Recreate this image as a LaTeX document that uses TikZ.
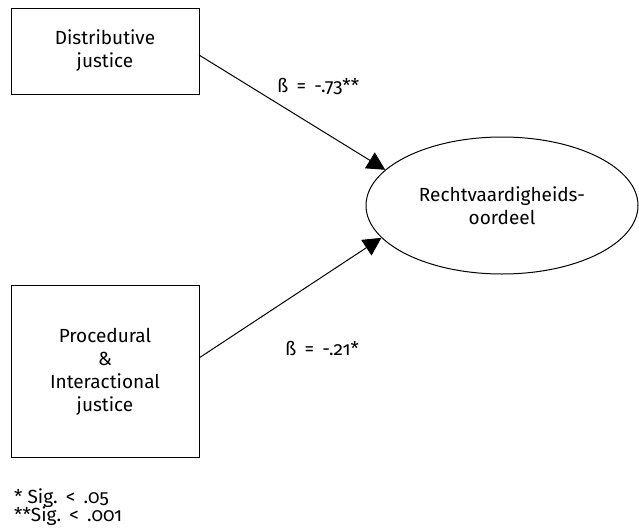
\documentclass[tikz,border=0pt]{standalone}
\usepackage{fontspec}
\setmainfont[Numbers=OldStyle]{Fira Sans}
\usetikzlibrary{shapes.geometric,arrows.meta}
\begin{document}
\begin{tikzpicture}[x=1pt,y=-1pt,
  every node/.style={font=\fontsize{19}{23}\selectfont},
  box/.style={draw,line width=1pt,inner sep=0pt,align=center},
  conn/.style={line width=1pt,-{Triangle[length=18pt,width=18.5pt]}},
  lbl/.style={anchor=base west,inner sep=0pt}]
\useasboundingbox (0,0) rectangle (639,530);
\node[box,minimum width=188pt,minimum height=86pt] (dj) at (105,51) {Distributive\\justice};
\node[box,minimum width=188pt,minimum height=172pt] (pj) at (105,371.5) {Procedural\\\&\\Interactional\\justice};
\node[draw,ellipse,line width=1pt,inner sep=0pt,minimum width=272pt,minimum height=137pt,align=center] (ro) at (502,205.5) {Rechtvaardigheids-\\oordeel};
\coordinate (s1) at (199,55);
\coordinate (s2) at (199,358);
\draw[conn] (s1) -- (ro.163.3);
\draw[conn] (s2) -- (ro.195.8);
\node[lbl] (b1) at (277,92) {ß\ \,=\ \,-.73**};
\node[lbl] (b2) at (285,355) {ß\ \,=\ \,-.21*};
\node[lbl] (f1) at (14,503) {* Sig.\ \,<\ \,.05};
\node[lbl] (f2) at (14,521) {**Sig.\ \,<\ \,.001};
\end{tikzpicture}
\end{document}
